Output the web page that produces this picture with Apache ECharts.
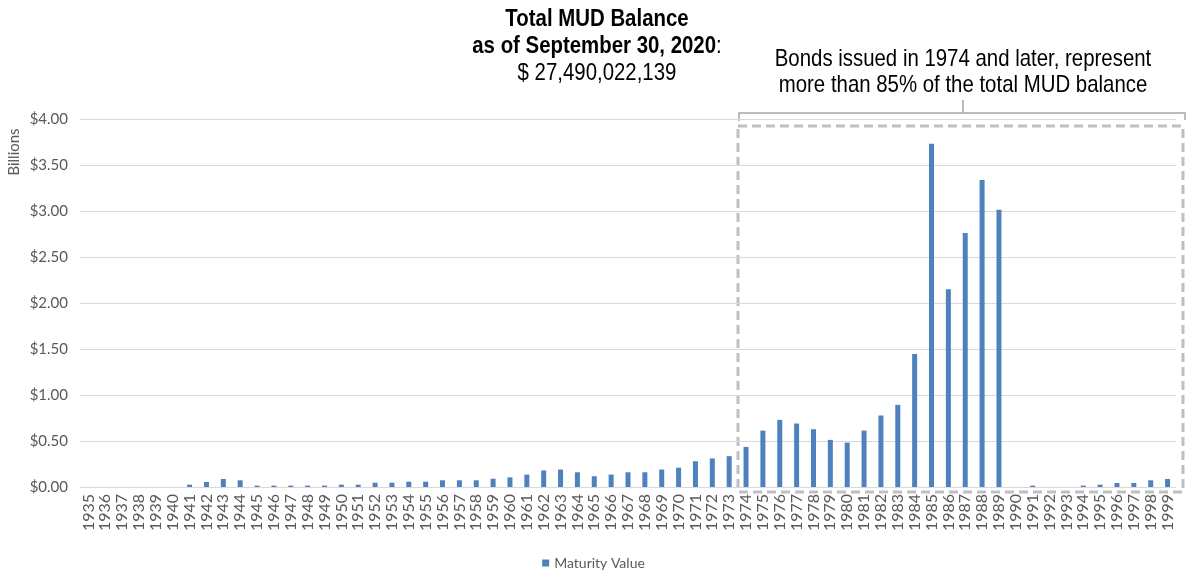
<!DOCTYPE html>
<html>
<head>
<meta charset="utf-8">
<script src="https://cdn.jsdelivr.net/npm/echarts@6/dist/echarts.min.js"></script>
<style>
  html, body { margin: 0; padding: 0; background: #fff; }
  #chart { width: 1187px; height: 571px; }
</style>
</head>
<body>
<div id="chart"></div>
<script>
// Maturity years 1935–1999
const years = [
  '1935','1936','1937','1938','1939','1940','1941','1942','1943','1944',
  '1945','1946','1947','1948','1949','1950','1951','1952','1953','1954',
  '1955','1956','1957','1958','1959','1960','1961','1962','1963','1964',
  '1965','1966','1967','1968','1969','1970','1971','1972','1973','1974',
  '1975','1976','1977','1978','1979','1980','1981','1982','1983','1984',
  '1985','1986','1987','1988','1989','1990','1991','1992','1993','1994',
  '1995','1996','1997','1998','1999'
];

// Maturity value, billions of dollars
const maturityValue = [
  0, 0, 0, 0, 0, 0, 0.025, 0.054, 0.087, 0.073,
  0.015, 0.015, 0.015, 0.015, 0.015, 0.025, 0.025, 0.047, 0.047, 0.058,
  0.058, 0.073, 0.073, 0.073, 0.09, 0.105, 0.135, 0.18, 0.19, 0.16,
  0.117, 0.135, 0.16, 0.16, 0.19, 0.21, 0.28, 0.31, 0.335, 0.436,
  0.613, 0.73, 0.69, 0.628, 0.512, 0.483, 0.613, 0.777, 0.893, 1.445,
  3.73, 2.149, 2.762, 3.336, 3.013, 0, 0.015, 0, 0, 0.015,
  0.025, 0.044, 0.044, 0.073, 0.087
];

const yTicks = [0, 0.5, 1, 1.5, 2, 2.5, 3, 3.5, 4];

const chart = echarts.init(document.getElementById('chart'), null, { renderer: 'canvas' });

const headFont = '"Liberation Sans", Arial, sans-serif';
const axisFont = 'Lato, "Noto Sans", sans-serif';
// condensed look for the headline texts
const narrow = 0.85;

chart.setOption({
  animation: false,
  backgroundColor: '#ffffff',
  grid: { left: 80, right: 11, top: 119, bottom: 84, containLabel: false },
  xAxis: {
    type: 'category',
    data: years,
    axisLine: { show: true, lineStyle: { color: '#d9d9d9', width: 1 } },
    axisTick: { show: false },
    axisLabel: {
      interval: 0,
      rotate: 90,
      color: '#595959',
      fontFamily: axisFont,
      fontSize: 16,
      margin: 7
    }
  },
  yAxis: {
    type: 'value',
    min: yTicks[0],
    max: yTicks[yTicks.length - 1],
    interval: 0.5,
    axisLine: { show: false },
    axisTick: { show: false },
    splitLine: { lineStyle: { color: '#d9d9d9', width: 1 } },
    axisLabel: {
      color: '#595959',
      fontFamily: axisFont,
      fontSize: 15,
      margin: 12,
      formatter: v => '$' + v.toFixed(2)
    }
  },
  legend: {
    bottom: -4,
    left: 'center',
    icon: 'rect',
    itemWidth: 7,
    itemHeight: 7,
    itemGap: 8,
    textStyle: { color: '#595959', fontFamily: axisFont, fontSize: 14 },
    data: ['Maturity Value']
  },
  series: [{
    name: 'Maturity Value',
    type: 'bar',
    data: maturityValue,
    barWidth: 5,
    itemStyle: { color: '#4f81bd' }
  }],
  graphic: [
    // Axis unit
    {
      type: 'text',
      x: 14, y: 152,
      rotation: Math.PI / 2,
      style: {
        text: 'Billions',
        fill: '#595959',
        font: '15px ' + axisFont,
        textAlign: 'center',
        textVerticalAlign: 'middle'
      }
    },
    // Headline
    {
      type: 'text',
      x: 597, y: 6,
      scaleX: narrow,
      style: {
        text: '{b|Total MUD Balance}\n{b|as of September 30, 2020}{n|:}\n{n|$ 27,490,022,139}',
        textAlign: 'center',
        rich: {
          b: { font: 'bold 24px ' + headFont, fill: '#000', lineHeight: 27 },
          n: { font: '24px ' + headFont, fill: '#000', lineHeight: 27 }
        }
      }
    },
    // Note on the recent bonds
    {
      type: 'text',
      x: 963, y: 46,
      scaleX: narrow,
      style: {
        text: 'Bonds issued in 1974 and later, represent\nmore than 85% of the total MUD balance',
        textAlign: 'center',
        font: '24px ' + headFont,
        fill: '#000',
        lineHeight: 26
      }
    },
    // Brace over the highlighted range
    {
      type: 'polyline',
      shape: { points: [[739, 121], [739, 113], [1185, 113], [1185, 120]] },
      style: { stroke: '#a6a6a6', lineWidth: 1.5, fill: null }
    },
    {
      type: 'line',
      shape: { x1: 963, y1: 100, x2: 963, y2: 113 },
      style: { stroke: '#a6a6a6', lineWidth: 1.5 }
    },
    // Dashed box around 1974 onward
    {
      type: 'rect',
      shape: { x: 738, y: 126, width: 445, height: 366 },
      style: { fill: null, stroke: '#bfbfbf', lineWidth: 3, lineDash: [9, 5] }
    }
  ]
});
</script>
</body>
</html>
